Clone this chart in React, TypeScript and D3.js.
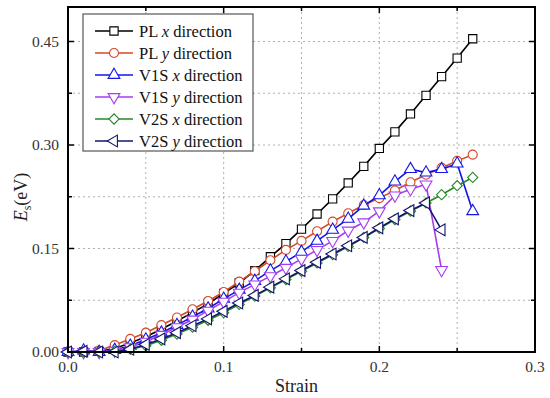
import React, { useRef, useEffect } from 'react';
import * as d3 from 'd3';

// strain steps (x) and energy series (eV)
const strain = [0, 0.01, 0.02, 0.03, 0.04, 0.05, 0.06, 0.07, 0.08, 0.09, 0.1, 0.11, 0.12, 0.13,
  0.14, 0.15, 0.16, 0.17, 0.18, 0.19, 0.2, 0.21, 0.22, 0.23, 0.24, 0.25, 0.26];

const plX = [0, 0, 0.001, 0.005, 0.013, 0.022, 0.033, 0.045, 0.057, 0.07, 0.085, 0.1, 0.118, 0.138,
  0.157, 0.178, 0.2, 0.222, 0.245, 0.269, 0.295, 0.319, 0.345, 0.372, 0.399, 0.426, 0.454];
const plY = [0, 0, 0.002, 0.01, 0.019, 0.028, 0.039, 0.05, 0.062, 0.074, 0.087, 0.102, 0.117, 0.133,
  0.148, 0.161, 0.175, 0.189, 0.201, 0.213, 0.223, 0.234, 0.246, 0.257, 0.267, 0.277, 0.286];
const v1sX = [0, 0.002, 0, 0.003, 0.009, 0.018, 0.028, 0.039, 0.051, 0.063, 0.077, 0.09, 0.103, 0.118,
  0.131, 0.145, 0.161, 0.177, 0.193, 0.212, 0.227, 0.247, 0.265, 0.26, 0.265, 0.273, 0.204];
const v1sY = [0, 0, 0, 0.002, 0.007, 0.015, 0.025, 0.036, 0.047, 0.06, 0.073, 0.086, 0.098, 0.11,
  0.122, 0.135, 0.148, 0.161, 0.176, 0.188, 0.204, 0.227, 0.236, 0.243, 0.119];
const v2sX = [0, 0, 0, 0.001, 0.004, 0.009, 0.017, 0.026, 0.036, 0.046, 0.057, 0.069, 0.081, 0.093,
  0.105, 0.117, 0.129, 0.141, 0.153, 0.166, 0.179, 0.192, 0.204, 0.216, 0.228, 0.241, 0.253];
const v2sY = [0, 0.001, 0, 0, 0.004, 0.011, 0.019, 0.028, 0.038, 0.048, 0.059, 0.071, 0.082, 0.094,
  0.106, 0.118, 0.13, 0.142, 0.154, 0.166, 0.18, 0.193, 0.205, 0.216, 0.177];

const seriesNames = ['PL', 'PL', 'V1S', 'V1S', 'V2S', 'V2S'];
const seriesDirs = ['x', 'y', 'x', 'y', 'x', 'y'];
const seriesValues = [plX, plY, v1sX, v1sY, v2sX, v2sY];
const seriesColors = ['#000000', '#d24a2a', '#1515e6', '#a43cf2', '#2a862a', '#14146e'];
const seriesMarkers = ['square', 'circle', 'up', 'down', 'diamond', 'left'];

const xMajor = [0, 0.1, 0.2, 0.3];
const xMinor = [0.05, 0.15, 0.25];
const yMajor = [0, 0.15, 0.3, 0.45];
const yMinor = [0.075, 0.225, 0.375];

const W = 550, H = 398;
const margin = { top: 7, right: 15, bottom: 46, left: 68 };
const FONT = '"Liberation Serif", "Times New Roman", serif';

const markerPath = (kind) => {
  if (kind === 'square') return { d: d3.symbol(d3.symbolSquare, 68)(), rot: 0 };
  if (kind === 'circle') return { d: d3.symbol(d3.symbolCircle, 64)(), rot: 0 };
  if (kind === 'diamond') return { d: d3.symbol(d3.symbolSquare, 52)(), rot: 45 };
  const tri = d3.symbol(d3.symbolTriangle, 60)();
  if (kind === 'up') return { d: tri, rot: 0 };
  if (kind === 'down') return { d: tri, rot: 180 };
  return { d: tri, rot: -90 }; // left
};

function Chart() {
  const svgRef = useRef(null);

  useEffect(() => {
    const svg = d3.select(svgRef.current);
    svg.selectAll('*').remove();

    const iw = W - margin.left - margin.right;
    const ih = H - margin.top - margin.bottom;

    const x = d3.scaleLinear().domain([0, 0.3]).range([0, iw]);
    const y = d3.scaleLinear().domain([0, 0.5]).range([ih, 0]);

    const g = svg.append('g').attr('transform', `translate(${margin.left},${margin.top})`);

    // dotted grid at every major + minor tick
    const gx = [...xMajor, ...xMinor].filter(v => v > 0 && v < 0.3);
    const gy = [...yMajor, ...yMinor].filter(v => v > 0 && v < 0.5);
    g.selectAll('.gridx').data(gx).join('line')
      .attr('x1', d => x(d)).attr('x2', d => x(d)).attr('y1', 0).attr('y2', ih)
      .attr('stroke', '#b0b0b0').attr('stroke-width', 1).attr('stroke-dasharray', '2,3');
    g.selectAll('.gridy').data(gy).join('line')
      .attr('y1', d => y(d)).attr('y2', d => y(d)).attr('x1', 0).attr('x2', iw)
      .attr('stroke', '#b0b0b0').attr('stroke-width', 1).attr('stroke-dasharray', '2,3');

    // series
    seriesValues.forEach((vals, i) => {
      const pts = vals.map((v, j) => [strain[j], v]);
      const line = d3.line().x(d => x(d[0])).y(d => y(d[1]));
      g.append('path').datum(pts)
        .attr('d', line).attr('fill', 'none')
        .attr('stroke', seriesColors[i]).attr('stroke-width', 1.6);
      const m = markerPath(seriesMarkers[i]);
      g.selectAll(`.mk${i}`).data(pts).join('path')
        .attr('d', m.d)
        .attr('transform', d => `translate(${x(d[0])},${y(d[1])}) rotate(${m.rot})`)
        .attr('fill', 'white').attr('stroke', seriesColors[i]).attr('stroke-width', 1.1);
    });

    // frame
    g.append('rect').attr('width', iw).attr('height', ih)
      .attr('fill', 'none').attr('stroke', '#000').attr('stroke-width', 2);

    // inward ticks on all four sides
    const tick = (vals, len) => {
      g.selectAll(null).data(vals).join('line')
        .attr('x1', d => x(d)).attr('x2', d => x(d)).attr('y1', ih).attr('y2', ih - len)
        .attr('stroke', '#000').attr('stroke-width', 1.5);
      g.selectAll(null).data(vals).join('line')
        .attr('x1', d => x(d)).attr('x2', d => x(d)).attr('y1', 0).attr('y2', len)
        .attr('stroke', '#000').attr('stroke-width', 1.5);
    };
    tick(xMajor.slice(1, 3), 6);
    tick(xMinor, 4);
    const ytick = (vals, len) => {
      g.selectAll(null).data(vals).join('line')
        .attr('y1', d => y(d)).attr('y2', d => y(d)).attr('x1', 0).attr('x2', len)
        .attr('stroke', '#000').attr('stroke-width', 1.5);
      g.selectAll(null).data(vals).join('line')
        .attr('y1', d => y(d)).attr('y2', d => y(d)).attr('x1', iw).attr('x2', iw - len)
        .attr('stroke', '#000').attr('stroke-width', 1.5);
    };
    ytick(yMajor.slice(1), 6);
    ytick(yMinor, 4);

    // tick labels
    g.selectAll('.xl').data(xMajor).join('text')
      .attr('x', d => x(d)).attr('y', ih + 20)
      .attr('text-anchor', 'middle').attr('font-family', FONT).attr('font-size', 15.5)
      .attr('fill', '#333').text(d => d3.format('.1f')(d));
    g.selectAll('.yl').data(yMajor).join('text')
      .attr('x', -9).attr('y', d => y(d) + 5)
      .attr('text-anchor', 'end').attr('font-family', FONT).attr('font-size', 15.5)
      .attr('fill', '#333').text(d => d3.format('.2f')(d));

    // axis titles
    g.append('text').attr('x', iw / 2 - 5).attr('y', ih + 40)
      .attr('text-anchor', 'middle').attr('font-family', FONT).attr('font-size', 18)
      .attr('fill', '#222').text('Strain');
    const yt = svg.append('text')
      .attr('transform', `translate(27,${margin.top + 190}) rotate(-90)`)
      .attr('text-anchor', 'middle').attr('font-family', FONT).attr('font-size', 18)
      .attr('fill', '#222');
    yt.append('tspan').attr('font-style', 'italic').text('E');
    yt.append('tspan').attr('font-size', 12).attr('dy', 4).text('s');
    yt.append('tspan').attr('dy', -4).text('(eV)');

    // legend
    const lg = svg.append('g').attr('transform', 'translate(83,14)');
    lg.append('rect').attr('width', 170).attr('height', 137)
      .attr('fill', 'white').attr('stroke', '#555').attr('stroke-width', 1.2);
    seriesNames.forEach((name, i) => {
      const row = lg.append('g').attr('transform', `translate(0,${17 + i * 22})`);
      row.append('line').attr('x1', 12).attr('x2', 50).attr('y1', 0).attr('y2', 0)
        .attr('stroke', seriesColors[i]).attr('stroke-width', 1.6);
      const m = markerPath(seriesMarkers[i]);
      row.append('path').attr('d', m.d)
        .attr('transform', `translate(31,0) rotate(${m.rot})`)
        .attr('fill', 'white').attr('stroke', seriesColors[i]).attr('stroke-width', 1.1);
      const t = row.append('text').attr('x', 56).attr('y', 5.5)
        .attr('font-family', FONT).attr('font-size', 16.5).attr('fill', '#111');
      t.append('tspan').text(name + ' ');
      t.append('tspan').attr('font-style', 'italic').text(seriesDirs[i]);
      t.append('tspan').text(' direction');
    });
  }, []);

  return <svg ref={svgRef} width={W} height={H} style={{ display: 'block' }} />;
}

export default function App() {
  return (
    <div>
      <style>{`body{margin:0;background:#fff}`}</style>
      <Chart />
    </div>
  );
}
